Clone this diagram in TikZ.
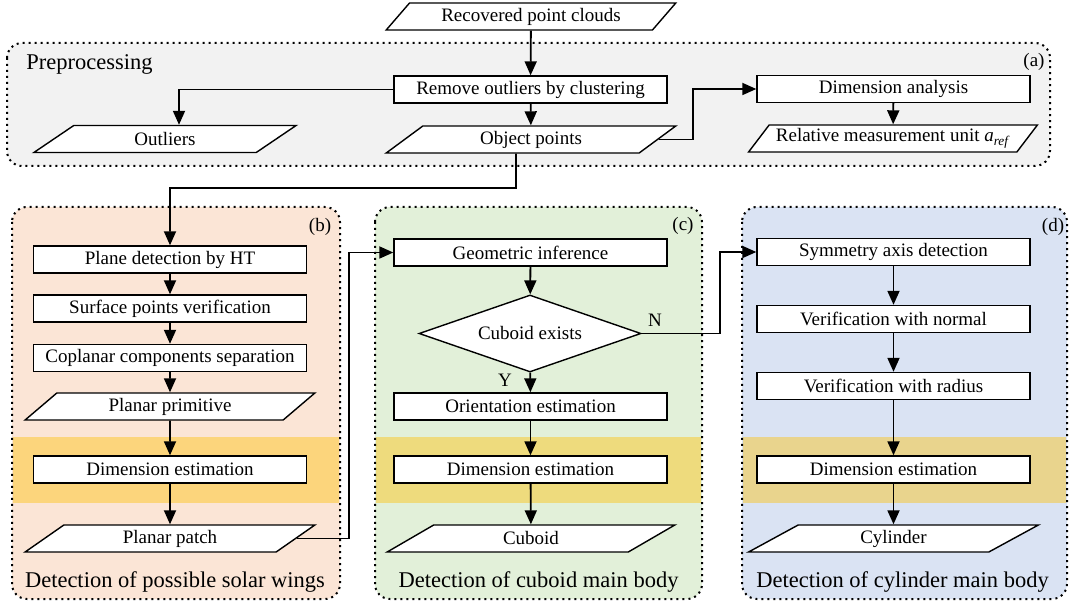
\documentclass[tikz,border=0pt]{standalone}
\usepackage{fontspec}
\setmainfont{Liberation Serif}
\newfontfamily\tnr{Liberation Serif}
\usetikzlibrary{shapes.geometric,arrows.meta}
\definecolor{pa}{HTML}{F2F2F2}
\definecolor{pb}{HTML}{FBE5D6}
\definecolor{pc}{HTML}{E2F0D9}
\definecolor{pd}{HTML}{DAE3F3}
\definecolor{bandc}{HTML}{FFC000}
\begin{document}
\begin{tikzpicture}[x=1pt,y=-1pt,
  txt/.style={font=\tnr\fontsize{19}{22}\selectfont},
  box/.style={txt,draw,line width=1.4pt,fill=white,minimum width=273pt,minimum height=27pt,inner sep=0pt},
  para/.style={txt,trapezium,trapezium left angle=45,trapezium right angle=135,trapezium stretches=true,draw,line width=1.4pt,fill=white,minimum width=290pt,minimum height=27pt,inner sep=0pt},
  decide/.style={txt,diamond,draw,line width=1.4pt,fill=white,minimum width=222pt,minimum height=77pt,inner sep=0pt,aspect=2.88},
  conn/.style={line width=1.8pt,-{Triangle[length=14pt,width=12pt]}},
  panelborder/.style={line width=2pt,dash pattern=on 2pt off 4pt,rounded corners=15pt},
  big/.style={font=\tnr\fontsize{22.5}{26}\selectfont},
  tag/.style={font=\tnr\fontsize{19}{22}\selectfont}]
\useasboundingbox (0,0) rectangle (1080,612);
% panels
\fill[pa,rounded corners=15pt] (7,43) rectangle (1050,166);
\draw[panelborder] (7,43) rectangle (1050,166);
\fill[pb,rounded corners=15pt] (12,207) rectangle (340,599);
\fill[pc,rounded corners=15pt] (375,207) rectangle (702,599);
\fill[pd,rounded corners=15pt] (742,207) rectangle (1067,599);
\fill[bandc,fill opacity=0.42] (13,437) rectangle (339,503);
\fill[bandc,fill opacity=0.42] (376,437) rectangle (701,503);
\fill[bandc,fill opacity=0.42] (743,437) rectangle (1066,503);
\draw[panelborder] (12,207) rectangle (340,599);
\draw[panelborder] (375,207) rectangle (702,599);
\draw[panelborder] (742,207) rectangle (1067,599);
% labels
\node[big] (lpre) at (89.5,64) {Preprocessing};
\node[tag] (la) at (1034,62) {(a)};
\node[tag] (lb) at (320,227) {(b)};
\node[tag] (lc) at (683,226) {(c)};
\node[tag] (ld) at (1053,227) {(d)};
\node[big] (lwing) at (175,582) {Detection of possible solar wings};
\node[big] (lcub) at (538.5,582) {Detection of cuboid main body};
\node[big] (lcyl) at (902.5,582) {Detection of cylinder main body};
% top
\node[para] (rec) at (531,16.5) {Recovered point clouds};
\node[box] (rem) at (530.5,89.5) {Remove outliers by clustering};
\node[para,minimum width=264pt] (outl) at (165,139) {Outliers};
\node[para] (obj) at (531,139.5) {Object points};
\node[box] (dima) at (893.5,89) {Dimension analysis};
\node[para] (rel) at (893,138.5) {Relative measurement unit \textit{a}\textsubscript{\textit{ref}}};
% panel b
\node[box] (plane) at (170,259.5) {Plane detection by HT};
\node[box] (surf) at (170,308.5) {Surface points verification};
\node[box] (copl) at (170,358) {Coplanar components separation};
\node[para] (prim) at (170,406.5) {Planar primitive};
\node[box] (dimb) at (170,469.5) {Dimension estimation};
\node[para] (patch) at (170,538.5) {Planar patch};
% panel c
\node[box] (geo) at (530.5,252.5) {Geometric inference};
\node[decide] (dia) at (530,333.5) {Cuboid exists};
\node[box] (orient) at (530.5,406.5) {Orientation estimation};
\node[box] (dimc) at (530.5,469.5) {Dimension estimation};
\node[para] (cub) at (531,538.5) {Cuboid};
\node[tag] (ly) at (505,380) {Y};
\node[tag] (ln) at (655,320) {N};
% panel d
\node[box] (sym) at (893.5,252) {Symmetry axis detection};
\node[box] (norm) at (893.5,319) {Verification with normal};
\node[box] (rad) at (893.5,386) {Verification with radius};
\node[box] (dimd) at (893.5,469.5) {Dimension estimation};
\node[para] (cyl) at (893.5,538.5) {Cylinder};
% connectors
\coordinate (j1) at (516,188);
\draw[conn] (rec) -- (rem);
\draw[conn] (rem) -- (obj);
\draw[conn] (rem.west) -| ([xshift=14pt]outl.north);
\draw[conn] (obj.east) -- ++(34,0) |- (dima.west);
\draw[conn] (dima) -- (rel);
\draw[conn] ([xshift=-15pt]obj.south) -- (j1) -| (plane.north);
\draw[conn] (plane) -- (surf);
\draw[conn] (surf) -- (copl);
\draw[conn] (copl) -- (prim);
\draw[conn] (prim) -- (dimb);
\draw[conn] (dimb) -- (patch);
\draw[conn] (patch.east) -- ++(52.5,0) |- (geo.west);
\draw[conn] (geo) -- (dia);
\draw[conn] (dia) -- (orient);
\draw[conn] (orient) -- (dimc);
\draw[conn] (dimc) -- (cub);
\draw[conn] (dia.east) -- ++(78,0) |- (sym.west);
\draw[conn] (sym) -- (norm);
\draw[conn] (norm) -- (rad);
\draw[conn] (rad) -- (dimd);
\draw[conn] (dimd) -- (cyl);
\end{tikzpicture}
\end{document}
